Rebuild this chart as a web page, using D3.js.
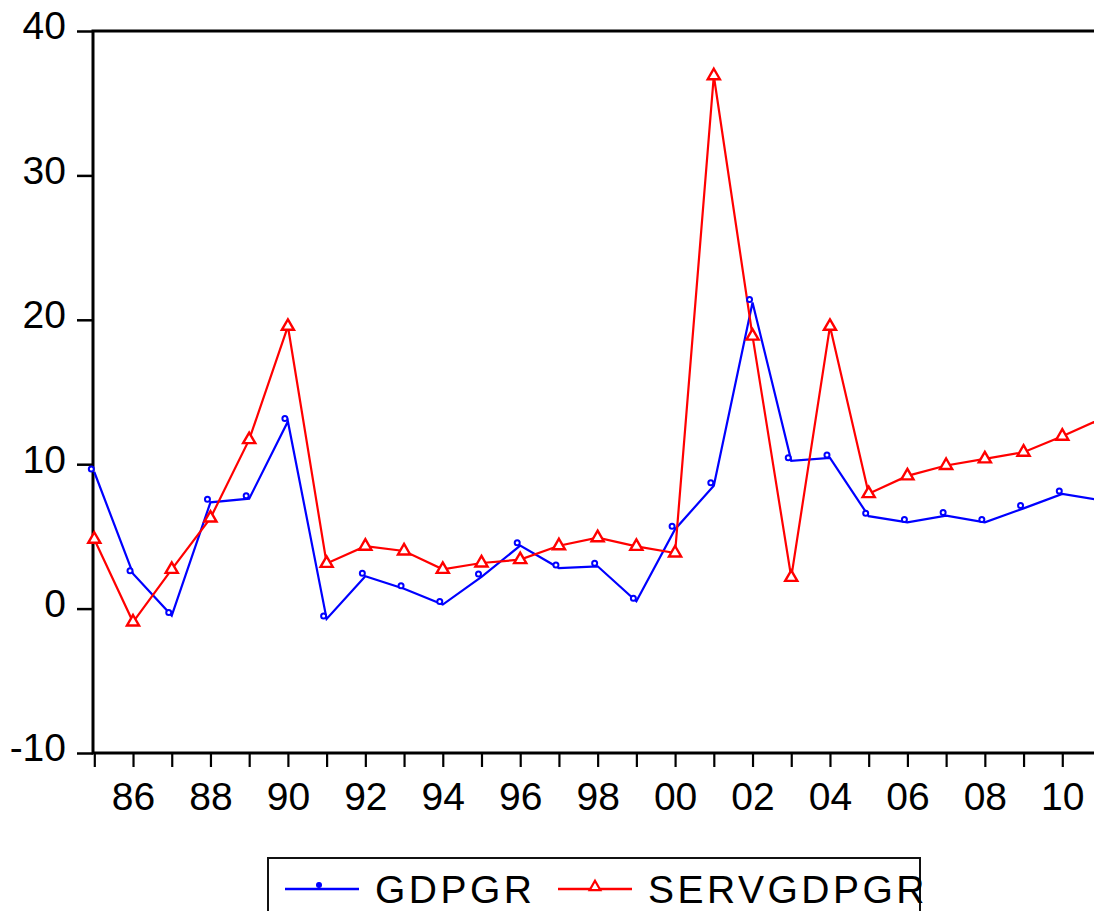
<!DOCTYPE html>
<html>
<head>
<meta charset="utf-8">
<script src="https://cdn.jsdelivr.net/npm/d3@7"></script>
<style>
  html, body { margin: 0; padding: 0; background: #fff; }
  svg { display: block; }
  text { font-family: "Liberation Sans", Arial, sans-serif; fill: #000; }
</style>
</head>
<body>
<svg id="chart" width="1094" height="911"></svg>
<script>
// Annual growth rates, 1985-2011
const years = [1985, 1986, 1987, 1988, 1989, 1990, 1991, 1992, 1993, 1994,
               1995, 1996, 1997, 1998, 1999, 2000, 2001, 2002, 2003, 2004,
               2005, 2006, 2007, 2008, 2009, 2010, 2011];
const gdpgr = [9.46, 2.42, -0.48, 7.36, 7.61, 12.96, -0.72, 2.24, 1.38, 0.28,
               2.19, 4.36, 2.81, 2.93, 0.51, 5.5, 8.51, 21.2, 10.24, 10.43,
               6.4, 5.97, 6.44, 5.97, 6.94, 7.94, 7.5];
const servgdpgr = [4.8, -0.93, 2.72, 6.27, 11.7, 19.55, 3.13, 4.32, 3.99, 2.72,
                   3.16, 3.39, 4.35, 4.91, 4.31, 3.85, 36.9, 18.87, 2.16, 19.55,
                   7.96, 9.19, 9.91, 10.37, 10.83, 11.94, 13.14];
const yTicks = [-10, 0, 10, 20, 30, 40];
const seriesNames = ["GDPGR", "SERVGDPGR"];
const seriesColors = ["#0000ff", "#ff0000"];

const svg = d3.select("#chart");
const plot = { left: 93, right: 1101, top: 31, bottom: 753 };

const x = d3.scaleLinear().domain([1985, 2011]).range([94.3, plot.right]);
const y = d3.scaleLinear().domain([-10, 40]).range([plot.bottom, plot.top]);

// Y axis (plain hyphen for negative labels)
const yAxis = svg.append("g")
  .attr("transform", `translate(${plot.left},0)`)
  .call(d3.axisLeft(y).tickValues(yTicks).tickSize(16).tickPadding(11).tickSizeOuter(0)
    .tickFormat(d => String(d)));
yAxis.select(".domain").remove();
yAxis.selectAll(".tick line").attr("stroke", "#000").attr("stroke-width", 2.5);
yAxis.selectAll(".tick text")
  .attr("font-size", 39)
  .attr("dy", "0.2em");

// X axis: a tick every year, labels on even years
const xAxis = svg.append("g")
  .attr("transform", `translate(0,${plot.bottom})`)
  .call(d3.axisBottom(x).tickValues(years).tickSize(14).tickPadding(15).tickSizeOuter(0)
    .tickFormat(d => d % 2 === 0 ? String(d).slice(2) : ""));
xAxis.select(".domain").remove();
xAxis.selectAll(".tick line").attr("stroke", "#000").attr("stroke-width", 2.2);
xAxis.selectAll(".tick text").attr("font-size", 39);

// Plot frame
svg.append("rect")
  .attr("x", plot.left).attr("y", plot.top)
  .attr("width", plot.right + 10 - plot.left).attr("height", plot.bottom - plot.top)
  .attr("fill", "none").attr("stroke", "#000").attr("stroke-width", 3);

const line = d3.line().x((d, i) => x(years[i])).y(d => y(d));

// Series lines
[gdpgr, servgdpgr].forEach((vals, k) => {
  svg.append("path")
    .datum(vals)
    .attr("fill", "none")
    .attr("stroke", seriesColors[k])
    .attr("stroke-width", 2.2)
    .attr("stroke-linejoin", "miter")
    .attr("d", line);
});

// Markers: small rings for GDPGR, hollow triangles for SERVGDPGR
const tri = d3.symbol().type(d3.symbolTriangle).size(64);
svg.append("g").selectAll("circle")
  .data(gdpgr)
  .join("circle")
  .attr("cx", (d, i) => x(years[i]) - 3)
  .attr("cy", d => y(d) - 3)
  .attr("r", 2.5)
  .attr("fill", "#fff")
  .attr("stroke", seriesColors[0])
  .attr("stroke-width", 2);

svg.append("g").selectAll("path")
  .data(servgdpgr)
  .join("path")
  .attr("transform", (d, i) => `translate(${x(years[i])},${y(d)})`)
  .attr("d", tri)
  .attr("fill", "#fff")
  .attr("stroke", seriesColors[1])
  .attr("stroke-width", 2.4);

// Legend
const legend = svg.append("g");
legend.append("rect")
  .attr("x", 268).attr("y", 858)
  .attr("width", 652).attr("height", 80)
  .attr("fill", "#fff").attr("stroke", "#111").attr("stroke-width", 2);

const legendItems = [
  { x1: 285, x2: 359, tx: 375 },
  { x1: 558, x2: 632, tx: 648 }
];
legendItems.forEach((it, k) => {
  legend.append("line")
    .attr("x1", it.x1).attr("x2", it.x2)
    .attr("y1", 889).attr("y2", 889)
    .attr("stroke", seriesColors[k]).attr("stroke-width", 2.5);
  legend.append("text")
    .attr("x", it.tx).attr("y", 903)
    .attr("font-size", 39)
    .attr("letter-spacing", "3.5px")
    .text(seriesNames[k]);
});
legend.append("circle")
  .attr("cx", 319).attr("cy", 885).attr("r", 2.4)
  .attr("fill", seriesColors[0]).attr("stroke", seriesColors[0]).attr("stroke-width", 1.2);
legend.append("path")
  .attr("transform", "translate(595,887)")
  .attr("d", d3.symbol().type(d3.symbolTriangle).size(50))
  .attr("fill", "#fff").attr("stroke", seriesColors[1]).attr("stroke-width", 2.2);
</script>
</body>
</html>
